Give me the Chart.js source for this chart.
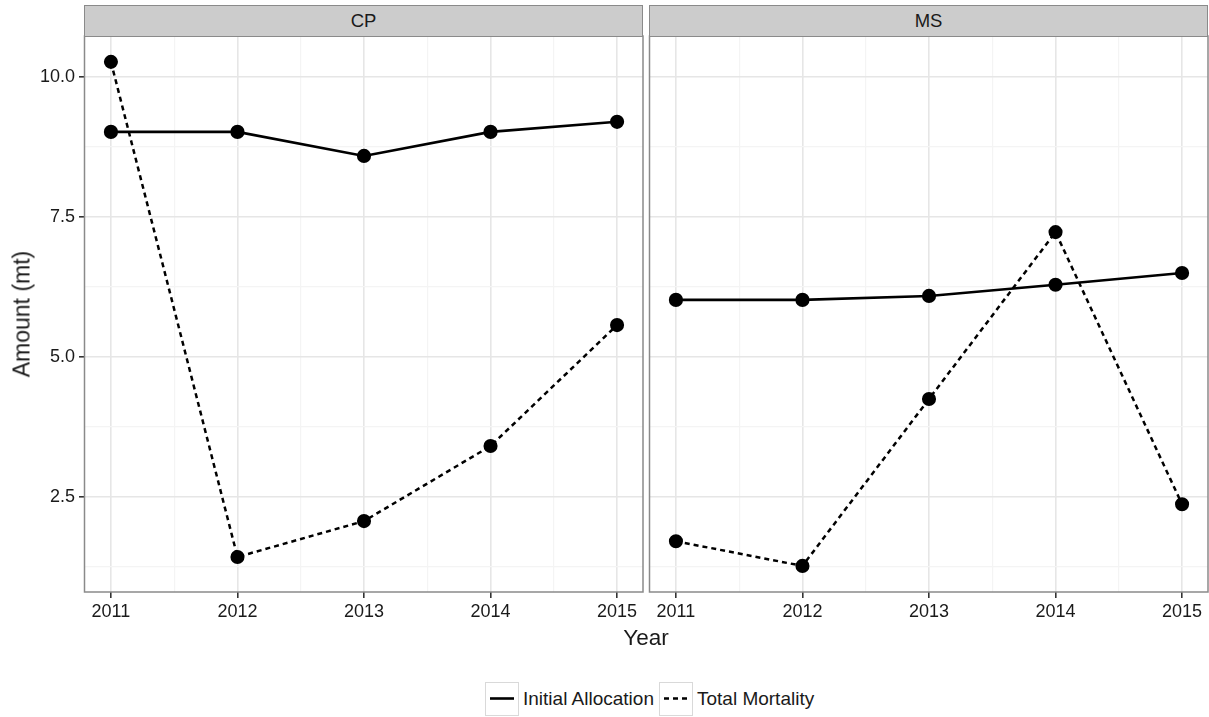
<!DOCTYPE html>
<html>
<head>
<meta charset="utf-8">
<script src="https://cdn.jsdelivr.net/npm/chart.js@4"></script>
<style>
  html, body { margin: 0; padding: 0; background: #ffffff; }
  body { width: 1209px; height: 717px; position: relative; overflow: hidden;
         font-family: "Liberation Sans", Arial, sans-serif; color: #1a1a1a; }
  .panel { position: absolute; top: 0; }
  .strip { position: absolute; top: 5px; height: 30px; background: #cccccc;
           border: 1.5px solid #8a8a8a; box-sizing: content-box;
           display: flex; align-items: center; justify-content: center;
           font-size: 18.5px; color: #1a1a1a; }
  .xtitle { position: absolute; left: 0; width: 1292px; top: 625px; text-align: center; font-size: 22.5px; }
  .ytitle { position: absolute; left: 22px; top: 314px; font-size: 23px; white-space: nowrap;
            transform: translate(-50%, -50%) rotate(-90deg); }
  .legend { position: absolute; top: 682px; left: 485px; display: flex; align-items: center; font-size: 19px; }
  .key { width: 32px; height: 32px; border: 1px solid #d9d9d9; margin-right: 4px; }
  .key svg { display: block; }
  .lab { margin-right: 5px; }
</style>
</head>
<body>
<div class="panel" style="left:0;width:646px;height:640px;"><canvas id="cp"></canvas></div>
<div class="panel" style="left:646px;width:563px;height:640px;"><canvas id="ms"></canvas></div>
<div class="strip" style="left:84px;width:557px;">CP</div>
<div class="strip" style="left:649px;width:557px;">MS</div>
<div class="xtitle">Year</div>
<div class="ytitle">Amount (mt)</div>
<div class="legend">
  <div class="key"><svg width="32" height="32"><line x1="4" y1="15.5" x2="28" y2="15.5" stroke="#000" stroke-width="2.6"/></svg></div>
  <div class="lab">Initial Allocation</div>
  <div class="key"><svg width="32" height="32"><line x1="4" y1="15.5" x2="28" y2="15.5" stroke="#000" stroke-width="2.6" stroke-dasharray="5 4"/></svg></div>
  <div class="lab">Total Mortality</div>
</div>
<script>
// Catch amounts (mt) by year for each sector
const years = [2011, 2012, 2013, 2014, 2015];
const cpInitial   = [9.02, 9.02, 8.59, 9.02, 9.20];
const cpMortality = [10.27, 1.43, 2.07, 3.41, 5.57];
const msInitial   = [6.02, 6.02, 6.09, 6.29, 6.50];
const msMortality = [1.71, 1.27, 4.25, 7.23, 2.37];
const yMajor = [2.5, 5.0, 7.5, 10.0];
const yMinor = [1.25, 3.75, 6.25, 8.75];
const seriesNames = ["Initial Allocation", "Total Mortality"];

const FONT = "'Liberation Sans', Arial, sans-serif";

const toPoints = vals => years.map((yr, i) => ({ x: yr, y: vals[i] }));

// Outline around each facet's plotting area
const panelBorder = {
  id: 'panelBorder',
  afterDraw(chart) {
    const { ctx, chartArea: a } = chart;
    ctx.save();
    ctx.strokeStyle = '#8a8a8a';
    ctx.lineWidth = 1.5;
    ctx.strokeRect(a.left - 0.5, a.top, a.right - a.left + 0.5, a.bottom - a.top);
    ctx.restore();
  }
};

function makeFacet(id, initial, mortality, showY, padding) {
  const isMajorX = v => Number.isInteger(v);
  const isMajorY = v => yMajor.includes(v);
  return new Chart(document.getElementById(id), {
    type: 'line',
    data: {
      datasets: [
        { label: seriesNames[0], data: toPoints(initial), borderColor: '#000', backgroundColor: '#000',
          borderWidth: 2.6, pointRadius: 5.8, pointHoverRadius: 5.8, tension: 0 },
        { label: seriesNames[1], data: toPoints(mortality), borderColor: '#000', backgroundColor: '#000',
          borderWidth: 2.5, borderDash: [5, 4], pointRadius: 5.8, pointHoverRadius: 5.8, tension: 0 }
      ]
    },
    options: {
      responsive: true,
      maintainAspectRatio: false,
      animation: false,
      events: [],
      layout: { padding, autoPadding: false },
      plugins: { legend: { display: false }, tooltip: { enabled: false } },
      scales: {
        x: {
          type: 'linear',
          min: 2010.795, max: 2015.205,
          afterBuildTicks: s => { s.ticks = []; for (let v = 2011; v <= 2015; v += 0.5) s.ticks.push({ value: v }); },
          afterFit: s => { s.height = 48; s.paddingLeft = 0; s.paddingRight = 0; },
          border: { display: false },
          grid: {
            color: c => isMajorX(c.tick.value) ? '#e6e6e6' : '#f4f4f4',
            lineWidth: c => isMajorX(c.tick.value) ? 1.6 : 1.2,
            tickColor: c => isMajorX(c.tick.value) ? '#333333' : 'rgba(0,0,0,0)',
            tickLength: 6
          },
          ticks: {
            autoSkip: false, maxRotation: 0, padding: 3,
            color: '#1a1a1a', font: { family: FONT, size: 18 },
            callback: v => Number.isInteger(v) ? String(v) : ''
          }
        },
        y: {
          display: true,
          min: 0.804, max: 10.732,
          afterBuildTicks: s => { s.ticks = [...yMinor, ...yMajor].sort((a, b) => a - b).map(v => ({ value: v })); },
          afterFit: s => { s.width = showY ? 85 : 0; s.paddingTop = 0; s.paddingBottom = 0; },
          border: { display: false },
          grid: {
            color: c => isMajorY(c.tick.value) ? '#e6e6e6' : '#f4f4f4',
            lineWidth: c => isMajorY(c.tick.value) ? 1.6 : 1.2,
            tickColor: c => (showY && isMajorY(c.tick.value)) ? '#333333' : 'rgba(0,0,0,0)',
            tickLength: 6,
            drawTicks: showY
          },
          ticks: {
            display: showY, autoSkip: false, padding: 4,
            color: '#1a1a1a', font: { family: FONT, size: 18 },
            callback: v => yMajor.includes(v) ? v.toFixed(1) : ''
          }
        }
      }
    },
    plugins: [panelBorder]
  });
}

makeFacet('cp', cpInitial, cpMortality, true, { top: 36, right: 3, left: 0, bottom: 0 });
makeFacet('ms', msInitial, msMortality, false, { top: 36, right: 1, left: 4, bottom: 0 });
</script>
</body>
</html>
